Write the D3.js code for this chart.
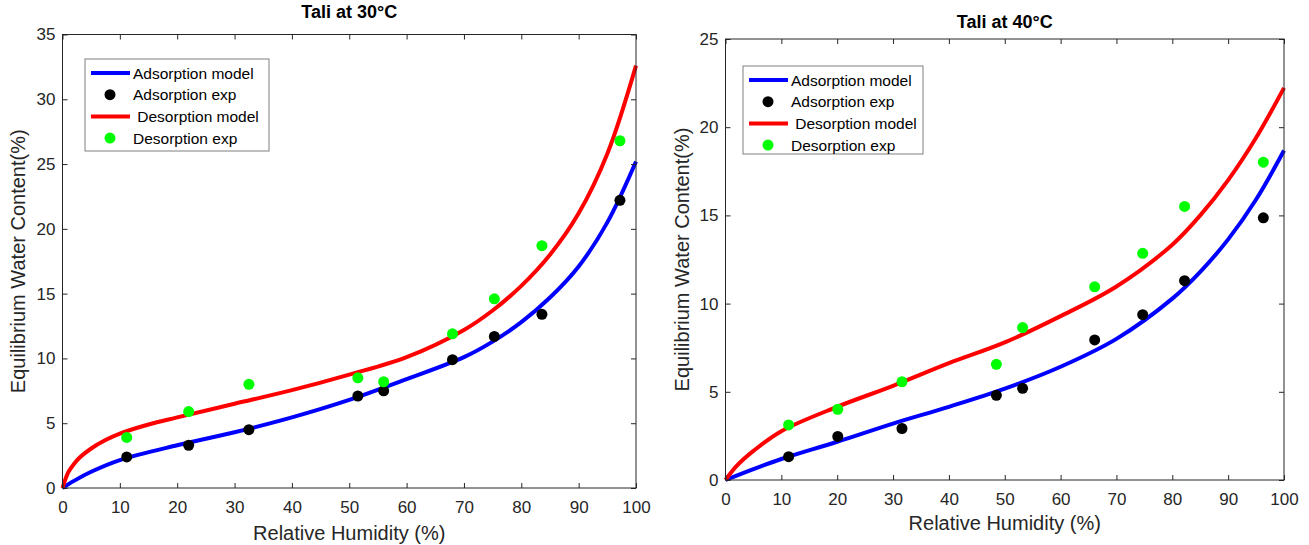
<!DOCTYPE html>
<html>
<head>
<meta charset="utf-8">
<script src="https://cdn.jsdelivr.net/npm/d3@7"></script>
<style>
body{margin:0;background:#fff;}
svg{display:block;font-family:"Liberation Sans",Arial,sans-serif;}
</style>
</head>
<body>
<svg id="chart" width="1309" height="545"></svg>
<script>
// ---- Shared labels ----
const titles = ["Tali at 30\u00B0C", "Tali at 40\u00B0C"];
const legendLabels = ["Adsorption model", "Adsorption exp", " Desorption model", "Desorption exp"];
const xTicks = [0,10,20,30,40,50,60,70,80,90,100];
const yTicks30 = [0,5,10,15,20,25,30,35];
const yTicks40 = [0,5,10,15,20,25];

// ---- Data: Tali at 30°C ----
const rh30Ads = [11.2, 22, 32.5, 51.5, 56, 68, 75.3, 83.6, 97.2];
const emc30Ads = [2.4, 3.3, 4.5, 7.1, 7.5, 9.9, 11.7, 13.4, 22.2];
const rh30Des = [11.2, 22, 32.5, 51.5, 56, 68, 75.3, 83.6, 97.2];
const emc30Des = [3.9, 5.9, 8.0, 8.5, 8.2, 11.9, 14.6, 18.7, 26.8];

const rh30AdsModel = [0, 2, 5, 10, 20, 30, 40, 50, 60, 70, 75, 80, 85, 90, 95, 100];
const emc30AdsModel = [0, 0.55, 1.25, 2.15, 3.3, 4.3, 5.45, 6.8, 8.4, 10.1, 11.3, 12.8, 14.7, 17.1, 20.5, 25.2];
const rh30DesModel = [0, 1, 2, 3, 5, 7.5, 10, 15, 20, 30, 40, 50, 60, 70, 75, 80, 85, 90, 95, 100];
const emc30DesModel = [0, 1.2, 1.85, 2.35, 3.05, 3.7, 4.2, 4.9, 5.45, 6.5, 7.55, 8.75, 10.1, 12.2, 13.7, 15.6, 18.0, 21.2, 25.8, 32.6];

// ---- Data: Tali at 40°C ----
const rh40Ads = [11.3, 20.1, 31.6, 48.5, 53.2, 66.1, 74.7, 82.2, 96.3];
const emc40Ads = [1.32, 2.47, 2.92, 4.8, 5.2, 7.94, 9.37, 11.3, 14.86];
const rh40Des = [11.3, 20.1, 31.6, 48.5, 53.2, 66.1, 74.7, 82.2, 96.3];
const emc40Des = [3.12, 4.01, 5.57, 6.56, 8.64, 10.95, 12.85, 15.51, 18.02];

const rh40AdsModel = [0, 5, 10, 20, 30, 40, 50, 60, 70, 80, 85, 90, 95, 100];
const emc40AdsModel = [0, 0.62, 1.19, 2.17, 3.2, 4.15, 5.18, 6.42, 8.0, 10.28, 11.8, 13.64, 15.9, 18.68];
const rh40DesModel = [0, 2, 5, 10, 20, 30, 40, 50, 60, 70, 80, 85, 90, 95, 100];
const emc40DesModel = [0, 0.8, 1.65, 2.77, 4.15, 5.34, 6.62, 7.8, 9.29, 10.97, 13.34, 15.0, 17.0, 19.4, 22.23];

const xLabel = "Relative Humidity (%)";
const yLabel = "Equilibrium Water Content(%)";

const panels = [
  {title: titles[0], x0: 62.5, x1: 636, yTop: 34.5, yBot: 488, yMax: 35, yTicks: yTicks30,
   ads: [rh30Ads, emc30Ads], des: [rh30Des, emc30Des],
   adsM: [rh30AdsModel, emc30AdsModel], desM: [rh30DesModel, emc30DesModel],
   titleY: 18, xlabY: 540, ylabX: 25,
   legend: {x: 85, y: 59, w: 184, h: 92}},
  {title: titles[1], x0: 725.5, x1: 1284, yTop: 39, yBot: 480, yMax: 25, yTicks: yTicks40,
   ads: [rh40Ads, emc40Ads], des: [rh40Des, emc40Des],
   adsM: [rh40AdsModel, emc40AdsModel], desM: [rh40DesModel, emc40DesModel],
   titleY: 28, xlabY: 530, ylabX: 689,
   legend: {x: 743, y: 66, w: 180, h: 88}}
];

const svg = d3.select("#chart");
const axisColor = "#262626";

panels.forEach(p => {
  const x = d3.scaleLinear().domain([0, 100]).range([p.x0, p.x1]);
  const y = d3.scaleLinear().domain([0, p.yMax]).range([p.yBot, p.yTop]);
  const g = svg.append("g");

  // curves
  const line = d3.line().x(d => x(d[0])).y(d => y(d[1])).curve(d3.curveCatmullRom.alpha(0.5));
  const zip = a => a[0].map((v, i) => [v, a[1][i]]);
  g.append("path").attr("d", line(zip(p.adsM))).attr("fill", "none")
    .attr("stroke", "#0000ff").attr("stroke-width", 4);
  g.append("path").attr("d", line(zip(p.desM))).attr("fill", "none")
    .attr("stroke", "#ff0000").attr("stroke-width", 4);

  // exp points
  g.selectAll(".ads").data(zip(p.ads)).join("circle")
    .attr("cx", d => x(d[0])).attr("cy", d => y(d[1])).attr("r", 5.5).attr("fill", "#000");
  g.selectAll(".des").data(zip(p.des)).join("circle")
    .attr("cx", d => x(d[0])).attr("cy", d => y(d[1])).attr("r", 5.5).attr("fill", "#00ff00");

  // axes
  const tickLen = 5;
  const xa = g.append("g").attr("transform", `translate(0,${p.yBot})`)
    .call(d3.axisBottom(x).tickValues(xTicks).tickSizeInner(-tickLen).tickSizeOuter(0).tickPadding(13));
  const xt = g.append("g").attr("transform", `translate(0,${p.yTop})`)
    .call(d3.axisTop(x).tickValues(xTicks).tickSizeInner(-tickLen).tickSizeOuter(0).tickFormat(""));
  const yl = g.append("g").attr("transform", `translate(${p.x0},0)`)
    .call(d3.axisLeft(y).tickValues(p.yTicks).tickSizeInner(-tickLen).tickSizeOuter(0).tickPadding(7));
  const yr = g.append("g").attr("transform", `translate(${p.x1},0)`)
    .call(d3.axisRight(y).tickValues(p.yTicks).tickSizeInner(-tickLen).tickSizeOuter(0).tickFormat(""));
  [xa, xt, yl, yr].forEach(a => {
    a.select(".domain").remove();
    a.selectAll("line").attr("stroke", axisColor);
    a.selectAll("text").attr("fill", axisColor).style("font-size", "17px")
      .style("font-family", "'Liberation Sans', Arial, sans-serif");
  });
  g.append("rect").attr("x", p.x0).attr("y", p.yTop).attr("width", p.x1 - p.x0)
    .attr("height", p.yBot - p.yTop).attr("fill", "none").attr("stroke", axisColor).attr("stroke-width", 1);

  // title
  g.append("text").attr("x", (p.x0 + p.x1) / 2).attr("y", p.titleY).attr("text-anchor", "middle")
    .style("font-weight", "bold").style("font-size", "18px").attr("fill", "#000").text(p.title);
  // x label
  g.append("text").attr("x", (p.x0 + p.x1) / 2).attr("y", p.xlabY).attr("text-anchor", "middle")
    .style("font-size", "20px").attr("fill", axisColor).text(xLabel);
  // y label
  g.append("text").attr("transform", `translate(${p.ylabX},${(p.yTop + p.yBot) / 2}) rotate(-90)`)
    .attr("text-anchor", "middle").style("font-size", "20px").attr("fill", axisColor).text(yLabel);

  // legend
  const L = p.legend;
  const lg = g.append("g").attr("transform", `translate(${L.x},${L.y})`);
  lg.append("rect").attr("width", L.w).attr("height", L.h).attr("fill", "#fff")
    .attr("stroke", "#7f7f7f").attr("stroke-width", 1);
  const rowH = 21.7;
  const items = [
    {type: "line", color: "#0000ff"}, {type: "dot", color: "#000"},
    {type: "line", color: "#ff0000"}, {type: "dot", color: "#00ff00"}
  ];
  items.forEach((it, i) => {
    const cy = 14 + i * rowH;
    if (it.type === "line") {
      lg.append("line").attr("x1", 6).attr("x2", 45).attr("y1", cy).attr("y2", cy)
        .attr("stroke", it.color).attr("stroke-width", 4);
    } else {
      lg.append("circle").attr("cx", 25).attr("cy", cy).attr("r", 5.5).attr("fill", it.color);
    }
    lg.append("text").attr("x", 48).attr("y", cy + 5.5).style("font-size", "15.5px")
      .style("white-space", "pre").attr("xml:space", "preserve").attr("fill", "#000").text(legendLabels[i]);
  });
});
</script>
</body>
</html>
